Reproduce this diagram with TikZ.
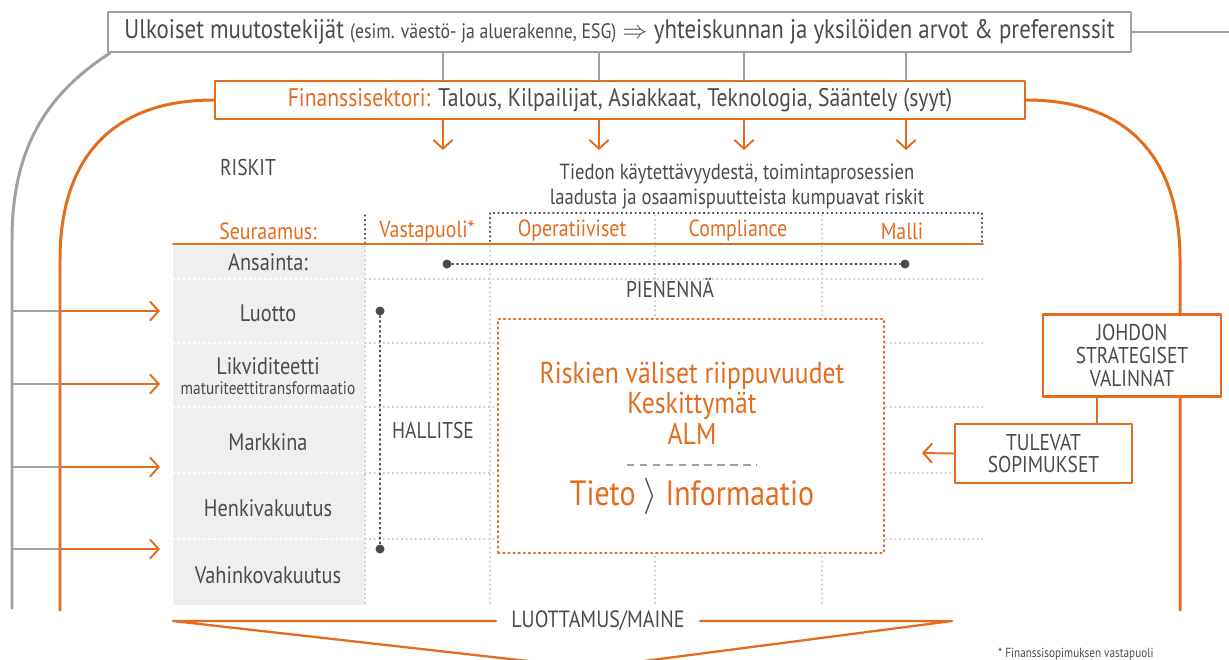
\documentclass[tikz,border=0pt]{standalone}
\usepackage{fontspec}
\setmainfont{PT Sans}[FakeStretch=0.85]
\usetikzlibrary{arrows.meta,positioning}
\definecolor{orng}{HTML}{E46C1F}
\definecolor{txtgray}{HTML}{4B4B4B}
\definecolor{linegray}{HTML}{A0A0A0}
\definecolor{cellgray}{HTML}{EFEFEF}
\definecolor{gridgray}{HTML}{CFCFCF}
\newcommand{\smalltxt}{\fontsize{11.9}{13}\selectfont}
\tikzset{
  every picture/.style={line join=round, line cap=round, >={Straight Barb[length=5pt,width=11pt]}},
  txt/.style={text=txtgray, inner sep=0pt, align=center, font=\fontsize{13}{15}\selectfont},
  rowlbl/.style={txt, font=\fontsize{13.6}{15}\selectfont},
  hdr/.style={text=orng, inner sep=0pt, font=\fontsize{13.3}{15}\selectfont},
  extbox/.style={draw=linegray, line width=1.2pt, fill=white, text=txtgray, inner sep=0pt,
    minimum width=20.46cm, minimum height=0.8cm, font=\fontsize{15.3}{17}\selectfont},
  finbox/.style={draw=orng, line width=1.2pt, fill=white, text=txtgray, inner sep=0pt,
    minimum width=16.2cm, minimum height=0.76cm, font=\fontsize{14.5}{16}\selectfont},
  choicebox/.style={draw=orng, line width=1.2pt, fill=white, text=txtgray, align=center,
    inner sep=0pt, font=\fontsize{13}{13}\selectfont},
  outerline/.style={linegray, line width=1.7pt},
  thinlink/.style={linegray, line width=0.8pt},
  orngline/.style={orng, line width=1.7pt},
  feed/.style={orng, line width=1.1pt, ->},
  gridline/.style={gridgray, dotted, line width=0.6pt},
  boxdots/.style={txtgray, dotted, line width=0.6pt},
  pin/.style={circle, fill=txtgray, inner sep=0pt, minimum size=0.18cm},
  pinline/.style={txtgray, dotted, line width=0.8pt},
}
\begin{document}
\begin{tikzpicture}[x=0.02cm, y=-0.02cm]
\useasboundingbox (0,0) rectangle (1229,659);

% ulkoiset tekijat ja finanssisektori
\node[extbox] (ext) at (619.5,32) {Ulkoiset muutostekijät {\smalltxt (esim. väestö- ja aluerakenne, ESG)} $\Rightarrow$ yhteiskunnan ja yksilöiden arvot \& preferenssit};
\node[finbox] (fin) at (620,100) {\textcolor{orng}{Finanssisektori:} Talous, Kilpailijat, Asiakkaat, Teknologia, Sääntely (syyt)};
\draw[outerline] (ext.east) -- (1229,32);
\foreach \x in {443,599,744,906} {
  \draw[thinlink] (ext.south -| \x,0) -- (fin.north -| \x,0);
  \draw[feed] (fin.south -| \x,0) -- (\x,150);
}

% kehat
\draw[outerline] ([xshift=0.06cm]ext.south west) .. controls (45,95) and (12,150) .. (12,240) -- (12,608);
\draw[orngline] (fin.west) .. controls (110,100) and (60,160) .. (60,260) -- (60,610);
\draw[orngline] (fin.east) .. controls (1130,100) and (1180,160) .. (1180,260) -- (1180,610);
\foreach \y in {311,384,467,549} {
  \draw[thinlink] (12,\y) -- (60,\y);
  \draw[feed] (60,\y) -- (160,\y);
}

\node[txt] (riskit) at (248,168) {RISKIT};
\node[txt, font=\fontsize{12.5}{14.2}\selectfont] (tiedon) at (737,187) {Tiedon käytettävyydestä, toimintaprosessien\\laadusta ja osaamispuutteista kumpuavat riskit};

% taulukko
\fill[cellgray] (173,246) rectangle (365,605);
\foreach \x in {365,490,655,822} \draw[gridline] (\x,246) -- (\x,605);
\foreach \x in {655,822} \draw[gridline] (\x,215) -- (\x,244);
\draw[boxdots] (365,215) -- (365,244);
\foreach \y in {279,343,407,473,539} {
  \draw[gridline, white, line width=0.9pt] (173,\y) -- (365,\y);
  \draw[gridline] (365,\y) -- (983,\y);
}
\draw[boxdots] (490,213) rectangle (982,244);
\draw[orng, line width=1.1pt] (173,244) -- (983,244);

\node[hdr] (h-seur) at (268,231) {Seuraamus:};
\node[hdr] (h-vasta) at (427,231) {Vastapuoli*};
\node[hdr] (h-oper) at (572,231) {Operatiiviset};
\node[hdr] (h-comp) at (738,231) {Compliance};
\node[hdr] (h-malli) at (902,231) {Malli};

\node[rowlbl] (r-ans) at (268,262) {Ansainta:};
\node[rowlbl] (r-luotto) at (268,313) {Luotto};
\node[rowlbl] (r-likv) at (268,366) {Likviditeetti};
\node[txt, font=\fontsize{10.3}{11}\selectfont] (r-mat) at (268,388) {maturiteettitransformaatio};
\node[rowlbl] (r-mark) at (268,442) {Markkina};
\node[rowlbl] (r-henki) at (268,508) {Henkivakuutus};
\node[rowlbl] (r-vahinko) at (268,575) {Vahinkovakuutus};

% pienenna / hallitse
\node[pin] (p-left) at (447,264) {};
\node[pin] (p-right) at (905,264) {};
\draw[pinline] (p-left) -- (p-right);
\node[txt] (pienenna) at (670,288) {PIENENNÄ};
\node[pin] (h-top) at (380,311) {};
\node[pin] (h-bot) at (380,549) {};
\draw[pinline] (h-top) -- (h-bot);
\node[txt] (hallitse) at (433,430) {HALLITSE};

% riippuvuudet
\node[draw=orng, dotted, line width=0.9pt, fill=white, minimum width=7.72cm, minimum height=4.68cm] (dep) at (691,436) {};
\node[txt, text=orng, font=\fontsize{17.2}{17.3}\selectfont] (dep-txt) at (692,403) {Riskien väliset riippuvuudet\\Keskittymät\\ALM};
\coordinate (sep-l) at (627,465);
\coordinate (sep-r) at (757,465);
\draw[linegray, line width=1pt, line cap=butt, dash pattern=on 4.25pt off 3.1pt] (sep-l) -- (sep-r);
\node[txt, text=orng, font=\fontsize{20}{22}\selectfont] (tieto) at (692,496) {Tieto \textcolor{txtgray}{$\rangle$} Informaatio};

% johdon valinnat
\node[choicebox, minimum width=3.56cm, minimum height=1.64cm] (johdon) at (1132,355.5) {JOHDON\\STRATEGISET\\VALINNAT};
\node[choicebox, minimum width=3.54cm, minimum height=1.18cm] (tulevat) at (1043.5,453.5) {TULEVAT\\SOPIMUKSET};
\draw[orng, line width=1.1pt] (johdon.south -| 1097,0) -- (tulevat.north -| 1097,0);
\coordinate (tulevat-tip) at (922,453);
\draw[feed] (tulevat.west) -- (tulevat-tip);

% luottamus
\node[txt, font=\fontsize{13.4}{15}\selectfont] (luott) at (598,621) {LUOTTAMUS/MAINE};
\coordinate (v-l) at (173,621);
\coordinate (v-r) at (952,621);
\coordinate (v-tip) at (590,668);
\draw[orng, line width=1.3pt] ([xshift=-0.3cm]luott.west) -- (v-l) -- (v-tip) -- (v-r) -- ([xshift=0.3cm]luott.east);

\node[txt, font=\fontsize{7.5}{9}\selectfont] (foot) at (1076,654) {* Finanssisopimuksen vastapuoli};
\end{tikzpicture}
\end{document}
